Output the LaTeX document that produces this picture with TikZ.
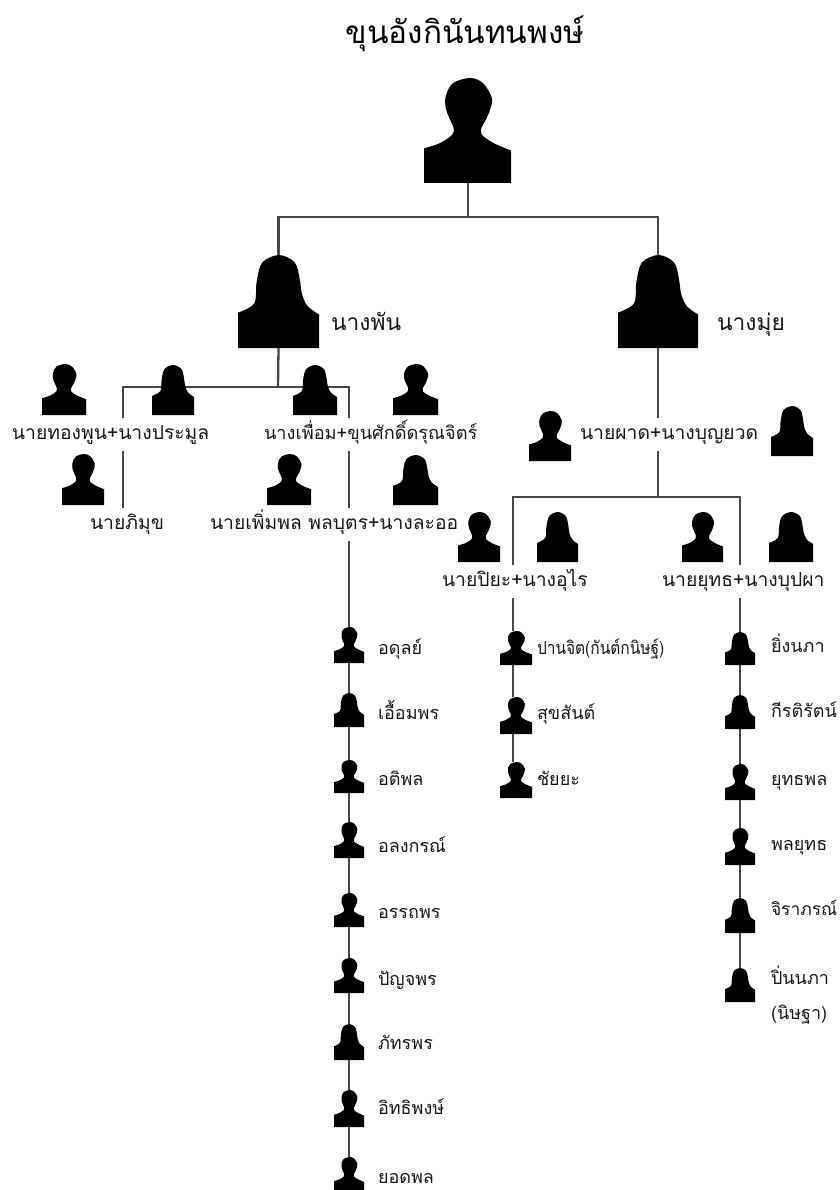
\documentclass[tikz,border=0pt]{standalone}
\usepackage{fontspec}
\usetikzlibrary{fit,backgrounds}
\newfontfamily\thaifont[Script=Thai]{Loma}
\tikzset{
  conn/.style={draw=black!72,line width=2.3pt},
  lab/.style={font=\thaifont\fontsize{19.3}{21}\selectfont,text=black!90,anchor=base west,inner sep=0pt,outer sep=0pt,text height=21pt,text depth=12pt},
  leaf/.style={lab,font=\thaifont\fontsize{18}{20}\selectfont},
  biglab/.style={lab,font=\thaifont\fontsize{22.8}{25}\selectfont},
  titlelab/.style={font=\thaifont\fontsize{31.5}{34}\selectfont,text=black,inner sep=0pt},
  pbox/.style={inner sep=0pt,outer sep=0pt},
}
\newcommand{\manshape}{\fill[black] plot[smooth,tension=.55] coordinates {(-.5,.67)(-.316,.62)(-.175,.54)(-.16,.476)(-.21,.38)(-.25,.286)(-.25,.175)(-.17,.05)(.03,0)(.18,.05)(.28,.19)(.26,.30)(.21,.40)(.16,.476)(.165,.54)(.30,.62)(.5,.69)} -- (.5,1) -- (-.5,1) -- cycle;}
\newcommand{\womanshape}{\fill[black] plot[smooth,tension=.55] coordinates {(-.5,.62)(-.3,.52)(-.27,.29)(-.2,.08)(.008,0)(.2,.08)(.26,.25)(.29,.42)(.36,.55)(.5,.64)} -- (.5,1) -- (-.5,1) -- cycle;}
% name, shape macro, left, right, top, bottom
\newcommand{\person}[6]{%
  \pgfmathsetmacro{\pw}{#4-(#3)}\pgfmathsetmacro{\ph}{#6-(#5)}\pgfmathsetmacro{\pc}{(#3+#4)/2}%
  \begin{scope}[shift={(\pc,#5)},x=\pw pt,y=-\ph pt]#2\end{scope}%
  \node[pbox,fit={(#3,#5)(#4,#6)}] (#1) {};}
\begin{document}
\begin{tikzpicture}[x=1pt,y=-1pt]
\useasboundingbox (0,0) rectangle (839,1190);
\clip (0,0) rectangle (839,1190);
\node[titlelab] (title) at (465,34) {ขุนอังกินันทนพงษ์};
\person{root}{\manshape}{424}{511}{78}{183}
\person{wl}{\womanshape}{238}{319}{255}{348}
\person{wr}{\womanshape}{618}{698}{255}{348}
\node[biglab] (lwl) at (331,330) {นางพัน};
\node[biglab] (lwr) at (717,330) {นางมุ่ย};
\person{a1}{\manshape}{42}{86}{364}{415}
\person{a2}{\womanshape}{152}{194}{365}{415}
\person{a3}{\womanshape}{293}{337}{365}{415}
\person{a4}{\manshape}{393}{438}{364}{415}
\person{b1}{\manshape}{62}{104}{454}{505}
\person{b2}{\manshape}{267}{311}{454}{505}
\person{b3}{\womanshape}{393}{438}{455}{505}
\person{c1}{\manshape}{529}{571}{411}{461}
\person{c2}{\womanshape}{771}{813}{406}{456}
\person{d1}{\manshape}{458}{500}{512}{562}
\person{d2}{\womanshape}{537}{578}{512}{562}
\person{d3}{\manshape}{682}{723}{512}{562}
\person{d4}{\womanshape}{769}{813}{512}{562}
\node[lab] (la) at (12,439) {นายทองพูน+นางประมูล};
\node[lab,font=\thaifont\fontsize{18.2}{21}\selectfont] (lb) at (264,439) {นางเพื่อม+ขุนศักดิ์ดรุณจิตร์};
\node[lab] (lc) at (90,529) {นายภิมุข};
\node[lab] (ld) at (210,529) {นายเพิ่มพล พลบุตร+นางละออ};
\node[lab] (le) at (580,439) {นายผาด+นางบุญยวด};
\node[lab] (lf) at (442,586) {นายปิยะ+นางอุไร};
\node[lab] (lg) at (662,586) {นายยุทธ+นางบุปผา};
% left chain
\person{e1}{\manshape}{334}{364}{627}{663}
\person{e2}{\womanshape}{334}{364}{693}{727}
\person{e3}{\manshape}{334}{364}{760}{793}
\person{e4}{\manshape}{334}{364}{822}{858}
\person{e5}{\manshape}{334}{364}{893}{927}
\person{e6}{\manshape}{334}{364}{958}{993}
\person{e7}{\womanshape}{334}{364}{1024}{1060}
\person{e8}{\manshape}{334}{364}{1090}{1127}
\person{e9}{\manshape}{334}{364}{1157}{1193}
\node[leaf] at (378,654) (te1) {อดุลย์};
\node[leaf] at (378,719) (te2) {เอื้อมพร};
\node[leaf] at (378,785) (te3) {อติพล};
\node[leaf] at (378,852) (te4) {อลงกรณ์};
\node[leaf] at (378,918) (te5) {อรรถพร};
\node[leaf] at (378,985) (te6) {ปัญจพร};
\node[leaf] at (378,1049) (te7) {ภัทรพร};
\node[leaf] at (378,1114) (te8) {อิทธิพงษ์};
\node[leaf] at (378,1183) (te9) {ยอดพล};
% middle chain
\person{f1}{\manshape}{500}{532}{631}{665}
\person{f2}{\manshape}{500}{532}{697}{734}
\person{f3}{\manshape}{500}{532}{762}{798}
\node[leaf] at (537,654) (tf1) {\scalebox{.86}[1]{ปานจิต(กันต์กนิษฐ์)}};
\node[leaf] at (537,719) (tf2) {สุขสันต์};
\node[leaf] at (537,785) (tf3) {ชัยยะ};
% right chain
\person{g1}{\womanshape}{725}{755}{632}{665}
\person{g2}{\womanshape}{725}{755}{695}{729}
\person{g3}{\manshape}{725}{755}{764}{800}
\person{g4}{\manshape}{725}{755}{828}{865}
\person{g5}{\womanshape}{725}{755}{898}{933}
\person{g6}{\womanshape}{725}{755}{968}{1002}
\node[leaf] at (771,652) (tg1) {ยิ่งนภา};
\node[leaf] at (771,717) (tg2) {กีรติรัตน์};
\node[leaf] at (771,785) (tg3) {ยุทธพล};
\node[leaf] at (771,850) (tg4) {พลยุทธ};
\node[leaf,font=\thaifont\fontsize{17.4}{20}\selectfont] at (771,915) (tg5) {จิราภรณ์};
\node[leaf] at (771,984) (tg6) {ปิ่นนภา};
\node[leaf] at (771,1019) (tg7) {(นิษฐา)};
% junctions
\coordinate (j0) at (468,217);
\coordinate (j1) at (278,387);
\coordinate (j1l) at (123,387);
\coordinate (j1r) at (349,387);
\coordinate (j2) at (658,497);
\coordinate (j2l) at (513,497);
\coordinate (j2r) at (740,497);
\begin{scope}[on background layer]
\draw[conn] (root.south -| j0) -- (j0);
\draw[conn] (wl.north) |- (j0) -| (wr.north);
\draw[conn] (wl.south) -- (j1);
\draw[conn] (j1l |- la.north) -- (j1l) -- (j1r) -- (j1r |- lb.north);
\draw[conn] (j1l |- la.south) -- (j1l |- lc.north);
\draw[conn] (j1r |- lb.south) -- (j1r |- ld.north);
\draw[conn] (j1r |- ld.south) -- (e1.north);
\foreach \p/\q in {e1/e2,e2/e3,e3/e4,e4/e5,e5/e6,e6/e7,e7/e8,e8/e9} \draw[conn] (\p.south) -- (\q.north);
\draw[conn] (wr.south) -- (wr.south |- le.north);
\draw[conn] (j2 |- le.south) -- (j2);
\draw[conn] (j2l |- lf.north) -- (j2l) -- (j2r) -- (j2r |- lg.north);
\draw[conn] (j2l |- lf.south) -- (j2l |- f1.north);
\draw[conn] (j2l |- f1.south) -- (j2l |- f2.north);
\draw[conn] (j2l |- f2.south) -- (j2l |- f3.north);
\draw[conn] (j2r |- lg.south) -- (g1.north);
\foreach \p/\q in {g1/g2,g2/g3,g3/g4,g4/g5,g5/g6} \draw[conn] (\p.south) -- (\q.north);
\end{scope}
\end{tikzpicture}
\end{document}
